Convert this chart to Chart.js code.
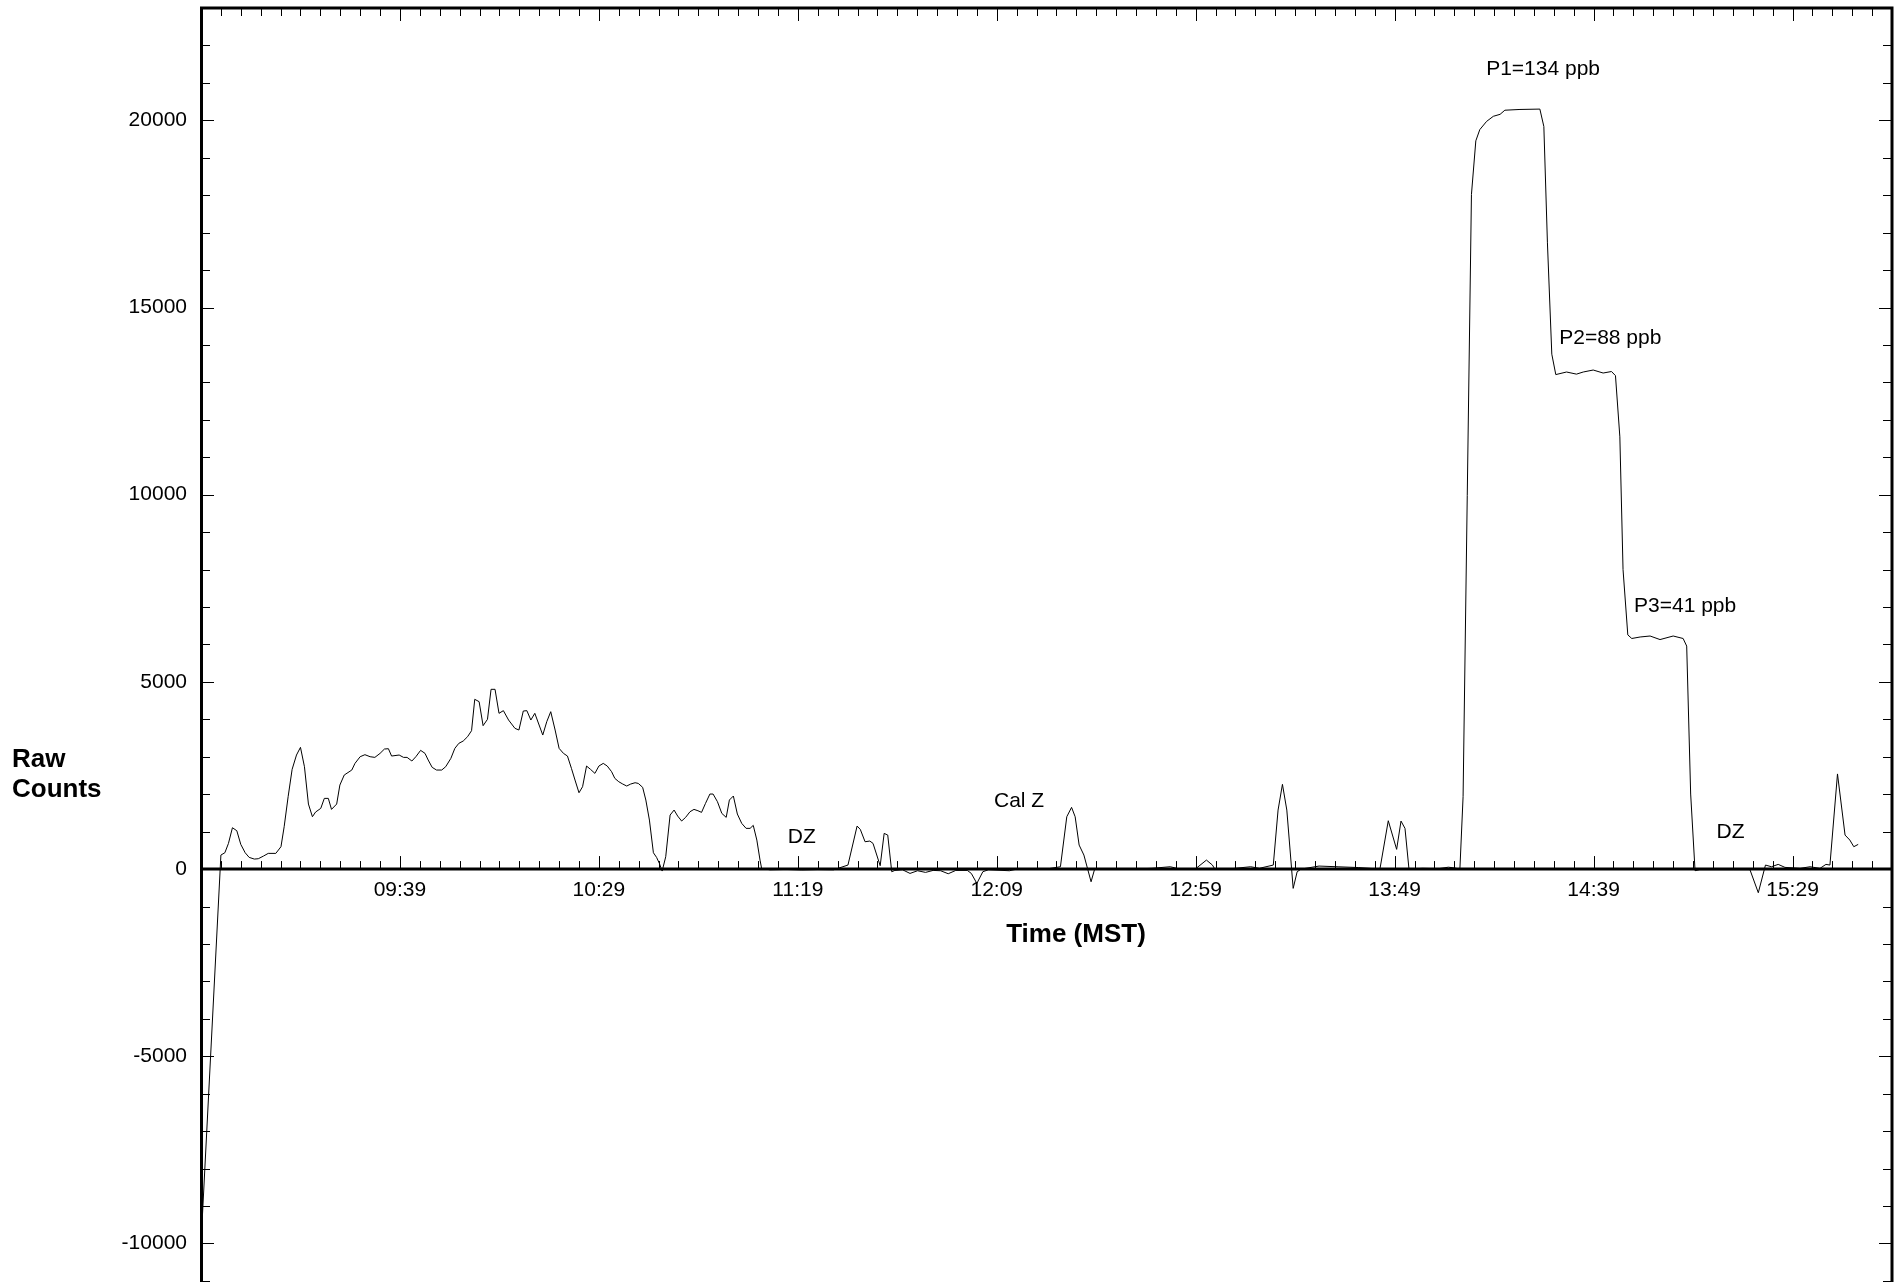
<!DOCTYPE html>
<html>
<head>
<meta charset="utf-8">
<title>Raw Counts vs Time (MST)</title>
<script src="https://cdn.jsdelivr.net/npm/chart.js@4.4.1/dist/chart.umd.min.js"></script>
<style>
  html, body { margin: 0; padding: 0; background: #fff; }
  #wrap { width: 1902px; height: 1282px; }
</style>
</head>
<body>
<div id="wrap"><canvas id="rawCountsChart" width="1902" height="1282"></canvas></div>
<script>
// sample times in minutes after midnight (MST)
const sampleMinutes = [
    529.0, 534.0, 535.0, 535.9, 536.9, 538.0, 539.0, 540.1, 541.1, 542.4, 543.4, 544.7, 545.9, 547.8, 549.1, 549.9,
    550.9, 551.9, 553.0, 554.0, 555.0, 556.0, 557.0, 557.8, 559.1, 560.0, 561.0, 561.8, 563.1, 563.9, 565.0, 566.9,
    567.7, 569.0, 570.2, 571.5, 572.7, 574.0, 575.1, 576.1, 576.9, 578.8, 579.9, 580.8, 582.0, 583.0, 584.2, 585.3,
    586.1, 587.1, 588.2, 589.5, 590.5, 591.8, 592.8, 593.8, 594.9, 596.0, 597.0, 597.8, 598.9, 599.9, 601.0, 601.9,
    602.9, 603.9, 605.0, 606.3, 607.9, 608.9, 610.0, 610.9, 611.9, 612.9, 614.9, 615.9, 616.9, 618.0, 619.0, 620.1,
    621.1, 622.1, 623.0, 624.0, 624.9, 625.9, 626.9, 628.0, 629.0, 630.1, 631.1, 632.2, 633.0, 634.0, 635.0, 636.0,
    637.0, 638.1, 638.9, 640.0, 640.8, 641.7, 642.7, 643.5, 644.2, 644.9, 645.8, 646.9, 647.9, 648.8, 649.8, 650.8,
    651.9, 652.9, 653.9, 654.8, 655.8, 656.9, 657.7, 658.8, 659.9, 661.0, 661.8, 662.8, 663.8, 664.9, 666.0, 667.0,
    667.8, 668.7, 669.5, 669.9, 672.0, 676.0, 680.0, 684.0, 688.0, 691.6, 693.9, 694.7, 695.9, 697.1, 697.9, 699.7,
    700.7, 701.6, 702.6, 703.4, 705.3, 707.2, 709.1, 711.1, 713.0, 714.9, 716.8, 718.7, 721.6, 722.6, 724.0, 725.5,
    726.9, 732.2, 734.1, 738.0, 742.0, 745.0, 746.6, 747.8, 748.7, 749.7, 750.9, 752.7, 753.6, 758.0, 763.0, 768.0,
    772.6, 775.0, 779.0, 781.7, 783.2, 783.8, 788.0, 792.8, 795.0, 798.5, 799.7, 800.8, 801.9, 803.5, 804.5, 805.5,
    810.0, 815.0, 820.0, 825.3, 827.4, 829.5, 830.6, 831.6, 832.6, 836.0, 840.0, 842.5, 844.0, 845.4, 846.2, 848.3,
    849.4, 850.4, 852.1, 853.8, 855.5, 856.7, 860.5, 865.5, 866.5, 867.4, 868.5, 869.5, 872.2, 874.7, 876.4, 878.9,
    881.4, 883.5, 884.5, 885.6, 886.4, 887.6, 888.6, 890.7, 893.2, 895.7, 899.0, 901.5, 902.4, 903.4, 904.5, 905.7,
    914.1, 918.3, 920.4, 922.2, 923.7, 925.4, 927.1, 930.9, 933.4, 935.9, 937.4, 938.4, 940.3, 942.2, 943.4, 944.4,
    945.5
];

const rawCounts = [
    -10000, 374, 436, 686, 1104, 1024, 659, 436, 312, 267, 276, 347, 419, 419, 597, 1131,
    1933, 2663, 3046, 3251, 2734, 1737, 1398, 1523, 1621, 1888, 1888, 1594, 1737, 2244, 2512, 2645,
    2823, 3001, 3055, 3001, 2983, 3090, 3206, 3215, 3019, 3046, 2983, 2983, 2886, 3001, 3171, 3090,
    2912, 2717, 2645, 2645, 2734, 2957, 3224, 3358, 3420, 3536, 3696, 4534, 4471, 3830, 4000, 4801,
    4801, 4160, 4231, 3981, 3759, 3714, 4222, 4231, 3981, 4160, 3580, 3937, 4204, 3714, 3224, 3090,
    3019, 2690, 2378, 2039, 2199, 2752, 2663, 2556, 2752, 2823, 2752, 2600, 2423, 2333, 2271, 2218,
    2271, 2306, 2288, 2183, 1844, 1309, 436, 312, 152, -53, 329, 1443, 1576, 1416, 1283, 1381,
    1531, 1594, 1558, 1514, 1755, 2004, 2004, 1799, 1487, 1381, 1844, 1951, 1470, 1220, 1087, 1087,
    1167, 775, 240, 18, -20, -10, -25, -15, -20, 107, 1149, 1060, 730, 748, 686, 89,
    953, 908, -71, -36, -18, -116, -45, -89, -36, -45, -125, -36, -36, -116, -383, -71,
    -18, -45, 0, -10, 10, 62, 1398, 1648, 1398, 641, 374, -339, 0, 10, 0, 20,
    62, 0, 10, 240, 107, 0, 10, 62, 20, 107, 1576, 2263, 1576, -516, -71, 0,
    80, 60, 40, 0, 1291, 526, 1282, 1087, 0, 20, 10, 50, 30, 0, 1934, 18020,
    19452, 19751, 19970, 20107, 20160, 20270, 20290, 20300, 19834, 16727, 13753, 13208, 13277, 13220, 13277, 13330,
    13250, 13290, 13180, 11545, 8000, 6255, 6159, 6199, 6225, 6130, 6225, 6159, 5956, 2004, -43, -18,
    -18, -18, -632, 107, 62, 125, 45, 18, 62, 18, 125, 107, 2541, 908, 775, 597,
    659
];

const timeTickLabels = ["09:39", "10:29", "11:19", "12:09", "12:59", "13:49", "14:39", "15:29"];
const countTicks = [-10000, -5000, 0, 5000, 10000, 15000, 20000];

// text notes placed at (time, counts)
const notes = [
    { text: "P1=134 ppb", at: 866.3, value: 21376 },
    { text: "P2=88 ppb", at: 883.2, value: 14188 },
    { text: "P3=41 ppb", at: 902.0, value: 7027 },
    { text: "Cal Z", at: 734.6, value: 1817 },
    { text: "DZ", at: 680.0, value: 855 },
    { text: "DZ", at: 913.4, value: 989 },
];

const FONT = "'Liberation Sans', Arial, sans-serif";
const toMin = (s) => {
    const [h, m] = s.split(":").map(Number);
    return h * 60 + m;
};
const labelMinutes = timeTickLabels.map(toMin);

// frame, inner tick marks, zero line and free text
const framePlugin = {
    id: "frame",
    afterDraw(chart) {
        const { ctx, chartArea: area } = chart;
        const x = chart.scales.x;
        const y = chart.scales.y;
        const zeroY = y.getPixelForValue(0);
        ctx.save();
        ctx.strokeStyle = "#000";

        ctx.lineWidth = 1;
        ctx.beginPath();
        for (let v = -11000; v <= 23000; v += 1000) {
            const py = Math.round(y.getPixelForValue(v)) + 0.5;
            if (py > area.bottom || py < area.top) continue;
            const len = v % 5000 === 0 ? 13 : 9;
            ctx.moveTo(area.left, py);
            ctx.lineTo(area.left + len, py);
            ctx.moveTo(area.right, py);
            ctx.lineTo(area.right - len, py);
        }
        for (let t = x.min + 5; t < x.max; t += 5) {
            const px = Math.round(x.getPixelForValue(t)) + 0.5;
            const len = labelMinutes.includes(t) ? 13 : 8;
            ctx.moveTo(px, area.top);
            ctx.lineTo(px, area.top + len);
            ctx.moveTo(px, zeroY);
            ctx.lineTo(px, zeroY - len);
        }
        ctx.stroke();

        ctx.lineWidth = 3;
        ctx.beginPath();
        ctx.moveTo(area.left + 0.5, chart.height);
        ctx.lineTo(area.left + 0.5, area.top);
        ctx.lineTo(area.right, area.top);
        ctx.lineTo(area.right, chart.height);
        ctx.moveTo(area.left, zeroY);
        ctx.lineTo(area.right, zeroY);
        ctx.stroke();

        ctx.fillStyle = "#000";
        ctx.font = "bold 26px " + FONT;
        ctx.textAlign = "left";
        ctx.textBaseline = "alphabetic";
        ctx.fillText("Raw", 12, 767);
        ctx.fillText("Counts", 12, 797);
        ctx.textAlign = "center";
        ctx.fillText("Time (MST)", 1076, 942);

        ctx.font = "21px " + FONT;
        ctx.textBaseline = "middle";
        notes.forEach((n) => {
            ctx.fillText(n.text, x.getPixelForValue(n.at), y.getPixelForValue(n.value));
        });
        ctx.restore();
    },
};

const ctx = document.getElementById("rawCountsChart").getContext("2d");
new Chart(ctx, {
    type: "line",
    data: {
        datasets: [
            {
                label: "Raw Counts",
                data: sampleMinutes.map((t, i) => ({ x: t, y: rawCounts[i] })),
                borderColor: "#000",
                borderWidth: 1,
                pointRadius: 0,
                tension: 0,
                fill: false,
            },
        ],
    },
    options: {
        responsive: false,
        animation: false,
        devicePixelRatio: 1,
        layout: { padding: { top: 8, right: 10, bottom: 0, left: 0 } },
        plugins: { legend: { display: false }, tooltip: { enabled: false } },
        scales: {
            x: {
                type: "linear",
                min: toMin("08:49"),
                max: toMin("15:54"),
                position: { y: 0 },
                grid: { display: false, drawTicks: false },
                border: { display: false },
                ticks: {
                    autoSkip: false,
                    maxRotation: 0,
                    padding: 9,
                    color: "#000",
                    font: { family: FONT, size: 21 },
                    callback: (value, index) => timeTickLabels[index],
                },
                afterBuildTicks: (scale) => {
                    scale.ticks = labelMinutes.map((v) => ({ value: v }));
                },
                afterFit: (scale) => {
                    scale.paddingLeft = 0;
                    scale.paddingRight = 0;
                },
            },
            y: {
                min: -11030,
                max: 23000,
                position: "left",
                grid: { display: false, drawTicks: false },
                border: { display: false },
                ticks: {
                    padding: 14,
                    color: "#000",
                    font: { family: FONT, size: 21 },
                    callback: (value) => String(value),
                },
                afterBuildTicks: (scale) => {
                    scale.ticks = countTicks.map((v) => ({ value: v }));
                },
                afterFit: (scale) => {
                    scale.width = 201;
                    scale.paddingTop = 0;
                    scale.paddingBottom = 0;
                },
            },
        },
    },
    plugins: [framePlugin],
});
</script>
</body>
</html>
